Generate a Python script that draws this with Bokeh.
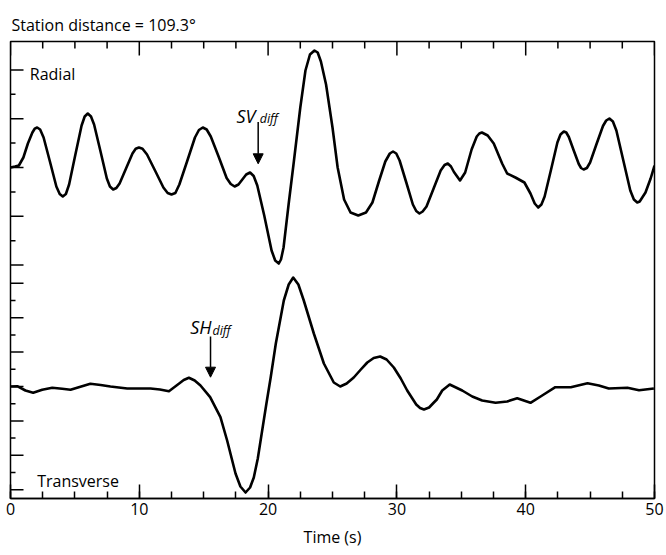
import math
from bokeh.plotting import figure
from bokeh.models import (Range1d, LinearAxis, SingleIntervalTicker,
                          Label, Arrow, NormalHead, ColumnDataSource)
from bokeh.embed import file_html
from bokeh.resources import INLINE

FONT = "Open Sans"

# ---------------- data ----------------
title_text = "Station distance = 109.3\u00b0"
x_label = "Time (s)"

# Radial trace: time (s) and amplitude (px-like units, positive up)
radial_t = [0, 0.35, 0.65, 1.0, 1.35, 1.7, 1.88, 2.07, 2.3, 2.57, 3.07, 3.56, 3.82, 4.06,
            4.3, 4.55, 5.03, 5.52, 5.76, 6.0, 6.25, 6.49, 6.99, 7.48, 7.72, 7.97, 8.22,
            8.47, 8.97, 9.47, 9.72, 9.97, 10.25, 10.6, 11.24, 11.87, 12.2, 12.5, 12.8,
            13.11, 13.72, 14.32, 14.63, 14.93, 15.23, 15.55, 16.17, 16.78, 17.1, 17.4,
            17.7, 18.0, 18.3, 18.6, 18.88, 19.16, 19.7, 20.27, 20.55, 20.83, 21.0, 21.2,
            21.6, 22.0, 22.5, 22.9, 23.25, 23.6, 23.85, 24.1, 24.5, 25.0, 25.4, 25.9,
            26.4, 27.0, 27.6, 28.1, 28.6, 29.1, 29.45, 29.7, 29.95, 30.21, 30.73, 31.24,
            31.5, 31.75, 32.0, 32.3, 32.85, 33.4, 33.7, 33.95, 34.2, 34.43, 34.9, 35.3,
            35.8, 36.2, 36.4, 36.6, 37.05, 37.52, 38.17, 38.56, 39.2, 39.9, 40.37, 40.7,
            40.97, 41.22, 41.47, 41.97, 42.46, 42.7, 42.96, 43.15, 43.35, 43.73, 44.12,
            44.3, 44.5, 44.75, 45.0, 45.5, 46.0, 46.25, 46.5, 46.77, 47.04, 47.58, 48.12,
            48.4, 48.66, 48.85, 49.0, 49.3, 49.7, 50.0]
radial_a = [0, 1, 2, 10, 24, 35, 38.8, 40, 38, 30, 5.5, -19, -26.5, -29,
            -26.5, -17, 12.5, 42, 51, 54, 51, 43, 16, -11, -19, -22, -20.5,
            -16, -1, 14, 18.8, 20, 18.8, 13, -3.5, -20, -25.5, -27, -25.5,
            -17, 6.5, 30, 37.5, 40, 38, 31, 10.5, -10.5, -16.5, -19,
            -17, -12, -7, -5, -8.5, -18, -48, -83, -93, -96, -92, -80,
            -36, 6, 60, 97, 113, 117, 115, 106, 83, 40, 0, -32,
            -45, -48, -45, -35, -14, 6, 14, 16, 14, 7, -15, -37,
            -43.5, -46, -44, -39, -21, -3, 2.5, 4, 1, -4.5, -13, -5,
            18, 31, 34, 35, 32, 24, 4, -6, -10, -15, -26, -36,
            -40, -37, -29, -2, 25, 33, 36, 35, 30.5, 17, 3.5,
            -0.5, -2, -0.5, 5, 23.5, 41.5, 47, 49, 46, 37, 7, -23,
            -32, -35, -34, -31, -25, -11, 2]

# Transverse trace
trans_t = [0, 0.52, 1.16, 1.76, 2.46, 3.24, 4.01, 4.66, 5.3, 6.2, 7.0, 7.76, 9.06, 10.87,
           11.6, 12.3, 13.07, 13.45, 13.85, 14.3, 14.75, 15.5, 16.3, 16.82, 17.47, 17.85,
           18.25, 18.6, 18.89, 19.2, 19.54, 19.87, 20.2, 20.6, 21.22, 21.6, 21.95, 22.35,
           22.77, 23.55, 24.33, 25.1, 25.6, 26.1, 26.65, 27.2, 27.7, 28.2, 28.7, 29.2,
           29.76, 30.3, 30.8, 31.5, 31.8, 32.1, 32.5, 32.87, 33.1, 33.52, 34.1, 35.07,
           35.85, 36.62, 37.66, 38.56, 39.34, 40.37, 41.28, 42.3, 43.5, 44.8, 45.68,
           46.45, 47.9, 48.8, 49.95]
trans_a = [0, 0.3, -4, -6.3, -3.3, -1.3, -2.3, -3.3, -0.7, 2.7, 1.5, 0, -2, -2,
           -3, -4.7, 2.7, 6.5, 8.7, 6, 1, -10.7, -30.7, -54, -87, -100,
           -106, -101, -91, -72, -44, -17, 9, 43, 86, 102, 109, 102,
           86, 53, 23, 4, 0, 3, 9, 17, 24, 28.5, 30, 27,
           19, 8, -4, -18, -21.5, -23, -21, -16, -13, -4, 2, -4,
           -10, -14, -16.3, -15, -11.7, -16.3, -9, -0.7, -0.7, 3.3, 1,
           -2, -1.3, -3.7, -2]

x_ticks_interval = 10
x_minor_per_major = 4
x_min, x_max = 0, 50

# left-axis tick marks, in trace units (even index = long tick, odd = short tick)
radial_tick_step = 24.4
trans_tick_step = 17.2
radial_tick_idx = [-4, -3, -2, -1, 0, 1, 2, 3, 4]
trans_tick_idx = [-6, -5, -4, -3, -2, -1, 0, 1, 2, 3, 4, 5, 6]

# ---------------- layout constants ----------------
Y_TOP = 457.0
RADIAL_BASE = 331.0
TRANS_BASE = 112.0

radial_y = [RADIAL_BASE + a for a in radial_a]
trans_y = [TRANS_BASE + a for a in trans_a]

major_y = ([RADIAL_BASE + i * radial_tick_step for i in radial_tick_idx if i % 2 == 0] +
           [TRANS_BASE + i * trans_tick_step for i in trans_tick_idx if i % 2 == 0])
minor_y = ([RADIAL_BASE + i * radial_tick_step for i in radial_tick_idx if i % 2 != 0] +
           [TRANS_BASE + i * trans_tick_step for i in trans_tick_idx if i % 2 != 0])

minor_step = x_ticks_interval / x_minor_per_major
n_top = int(round((x_max - x_min) / minor_step))
top_all = [x_min + k * minor_step for k in range(n_top + 1)]
top_major = [v for v in top_all if abs(v / x_ticks_interval - round(v / x_ticks_interval)) < 1e-9]
top_minor = [v for v in top_all if v not in top_major]

p = figure(width=666, height=555,
           x_range=Range1d(x_min, x_max), y_range=Range1d(0, Y_TOP),
           output_backend="svg", toolbar_location=None,
           x_axis_location=None, y_axis_location=None,
           min_border_left=10, min_border_right=12, min_border_top=41, min_border_bottom=57)

p.title.text = title_text
p.title.text_font = FONT
p.title.text_font_size = "16px"
p.title.text_font_style = "normal"
p.title.text_color = "black"
p.title.align = "left"
p.title.offset = 1
p.title.standoff = 12

p.xgrid.visible = False
p.ygrid.visible = False
p.outline_line_color = "black"
p.outline_line_width = 1.5
p.background_fill_color = "white"
p.border_fill_color = "white"

xb = LinearAxis(axis_label=x_label)
xb.ticker = SingleIntervalTicker(interval=x_ticks_interval, num_minor_ticks=x_minor_per_major)
xb.major_tick_in = 14
xb.major_tick_out = 0
xb.minor_tick_in = 7
xb.minor_tick_out = 0
xb.major_tick_line_width = 1.5
xb.minor_tick_line_width = 1.5
xb.major_tick_line_color = "black"
xb.minor_tick_line_color = "black"
xb.axis_line_color = "black"
xb.axis_line_width = 1.5
xb.major_label_text_font = FONT
xb.major_label_text_font_size = "16px"
xb.major_label_text_color = "black"
xb.major_label_standoff = 4
xb.axis_label_text_font = FONT
xb.axis_label_text_font_size = "16px"
xb.axis_label_text_font_style = "normal"
xb.axis_label_text_color = "black"
xb.axis_label_standoff = 8
p.add_layout(xb, "below")

# left tick marks (inward) and top tick marks (inward), drawn as screen-length rays
p.ray(x=[x_min] * len(major_y), y=major_y, length=13, length_units="screen", angle=0,
      line_color="black", line_width=1.5)
p.ray(x=[x_min] * len(minor_y), y=minor_y, length=5, length_units="screen", angle=0,
      line_color="black", line_width=1.5)
p.ray(x=top_major, y=[Y_TOP] * len(top_major), length=14, length_units="screen",
      angle=-math.pi / 2, line_color="black", line_width=1.5)
p.ray(x=top_minor, y=[Y_TOP] * len(top_minor), length=7, length_units="screen",
      angle=-math.pi / 2, line_color="black", line_width=1.5)

src_r = ColumnDataSource(dict(t=radial_t, y=radial_y))
src_tr = ColumnDataSource(dict(t=trans_t, y=trans_y))
p.line("t", "y", source=src_r, line_color="black", line_width=2.6, line_join="round")
p.line("t", "y", source=src_tr, line_color="black", line_width=2.6, line_join="round")

def lab(x, y, text, size="16px", style="normal"):
    p.add_layout(Label(x=x, y=y, text=text, text_font=FONT, text_font_size=size,
                       text_font_style=style, text_color="black",
                       text_baseline="alphabetic", text_align="left"))

lab(1.5, 425, "Radial")
lab(2.07, 18, "Transverse")
lab(17.55, 383, "SV", size="18px", style="italic")
lab(19.35, 380.5, "diff", size="12.5px", style="italic")
lab(13.95, 171.3, "SH", size="18px", style="italic")
lab(15.68, 168, "diff", size="12.5px", style="italic")

for (ax_, y0, y1) in [(19.23, 376.5, 334.7), (15.53, 162, 121.3)]:
    p.add_layout(Arrow(x_start=ax_, y_start=y0, x_end=ax_, y_end=y1,
                       line_color="black", line_width=1.5,
                       end=NormalHead(size=10, fill_color="black", line_color="black")))

open("out.html", "w").write(file_html(p, INLINE))
